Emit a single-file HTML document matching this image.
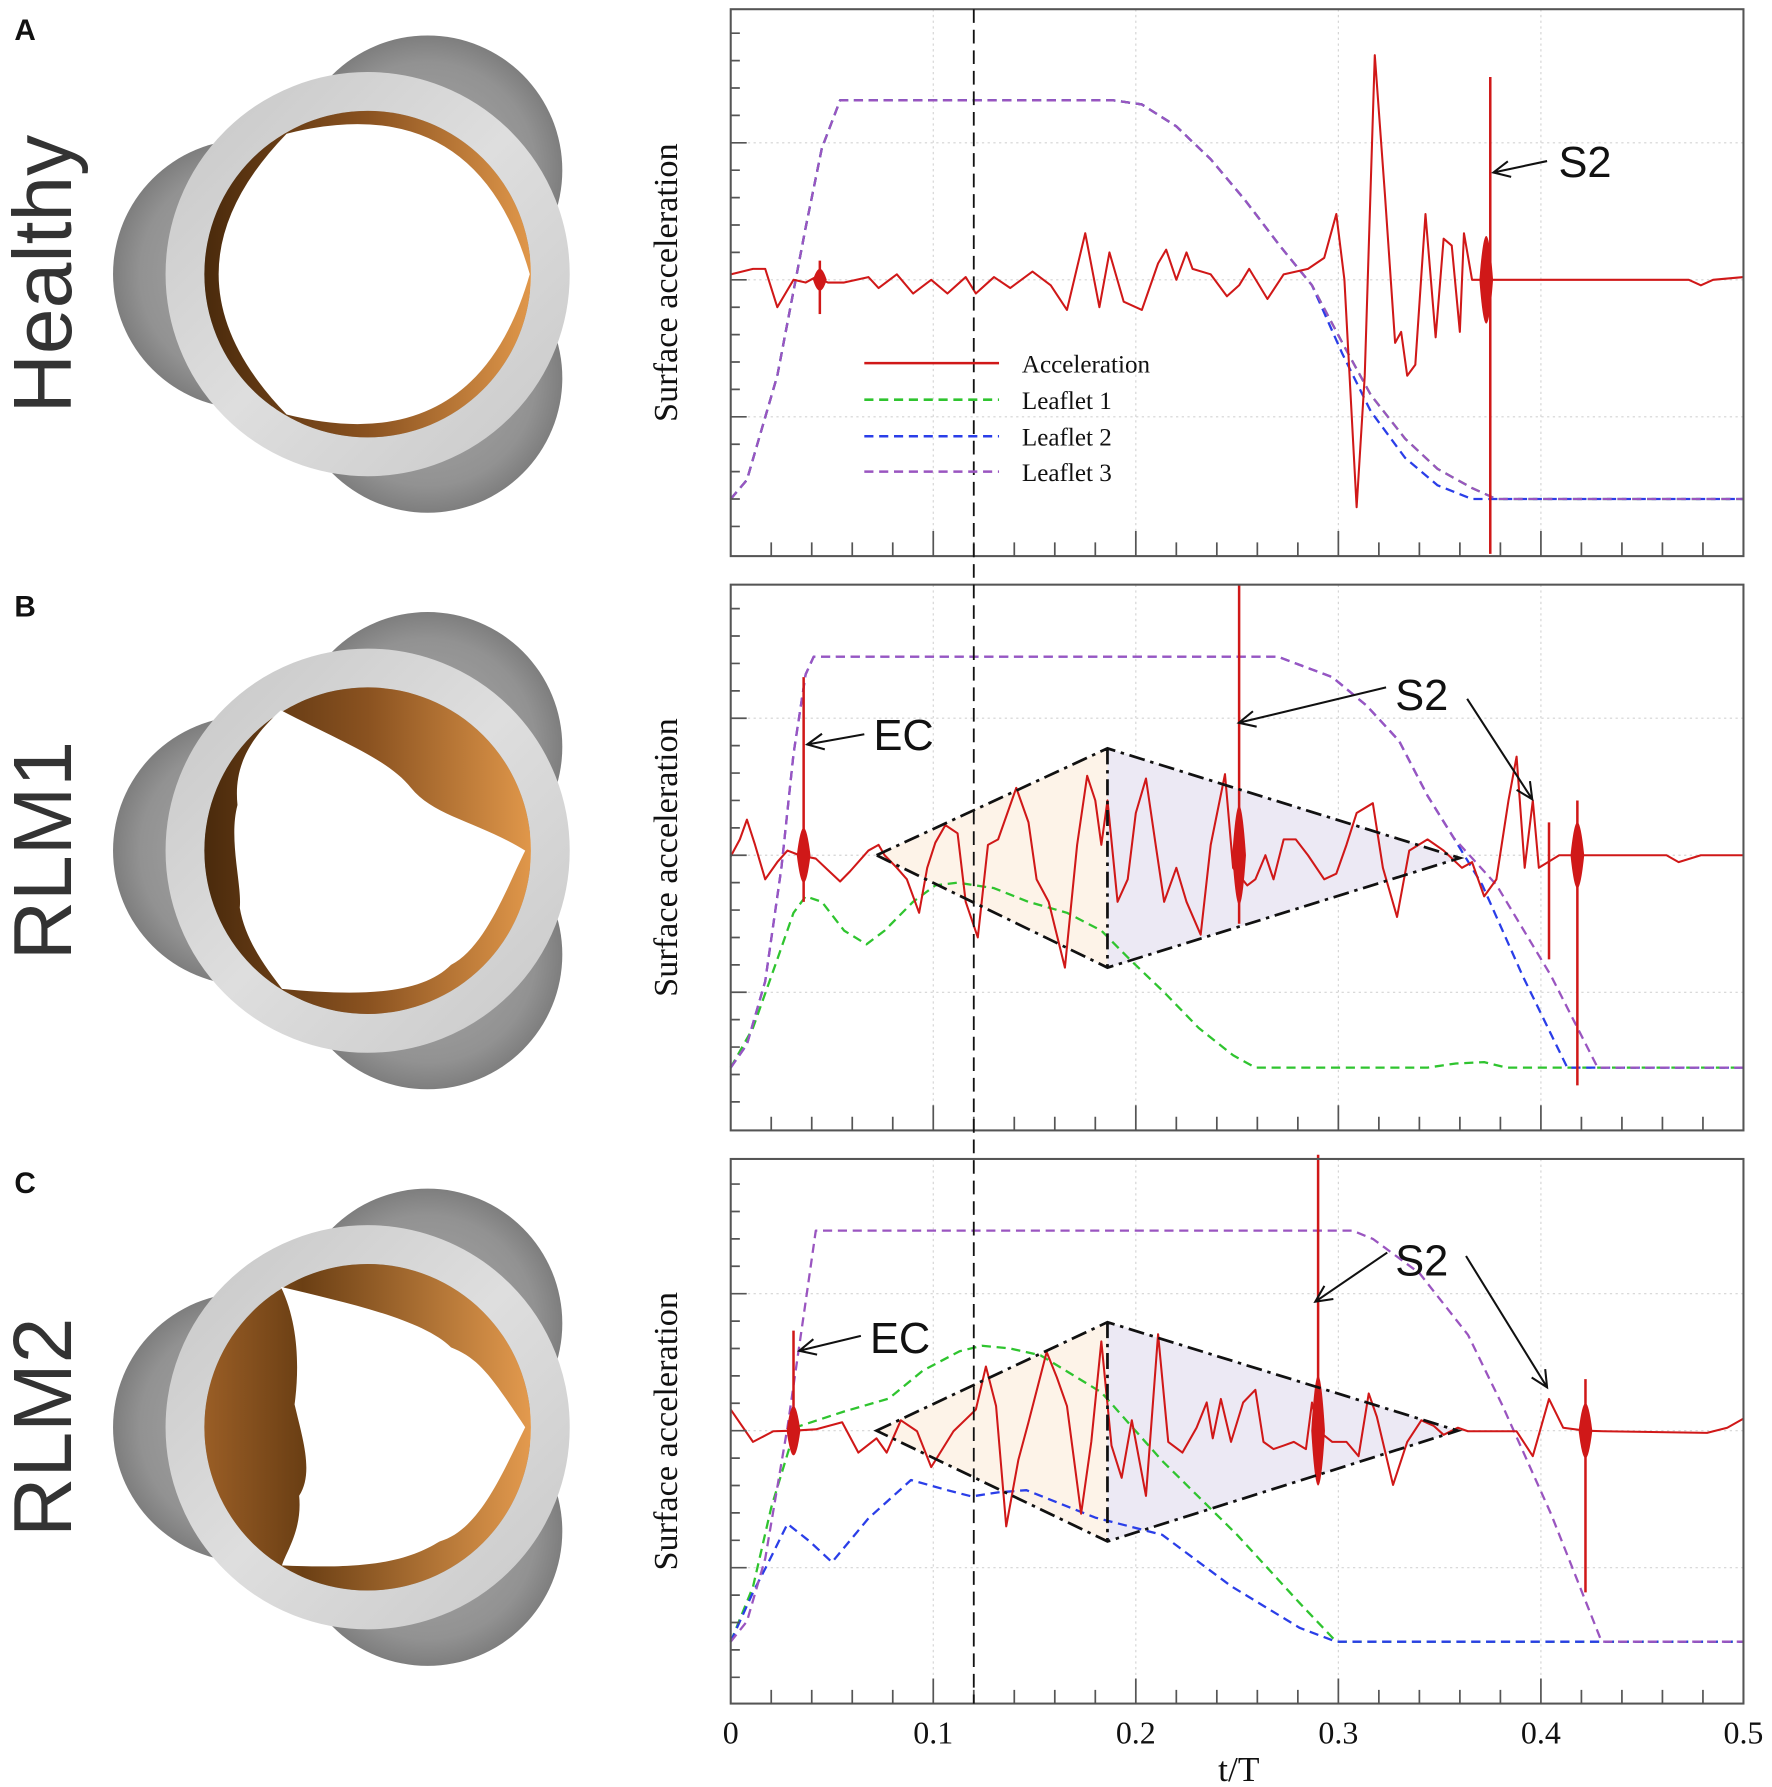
<!DOCTYPE html>
<html><head><meta charset="utf-8">
<style>
html,body{margin:0;padding:0;background:#fff;}
svg{display:block;}
text{font-family:"Liberation Serif",serif;}
.sans{font-family:"Liberation Sans",sans-serif;}
</style></head>
<body>
<svg id="fig" width="1772" height="1787" viewBox="0 0 1552 1565" xmlns="http://www.w3.org/2000/svg">
<defs>
  <radialGradient id="sinusG" cx="0.5" cy="0.5" r="0.5">
    <stop offset="0" stop-color="#a8a8a8"/><stop offset="0.8" stop-color="#929292"/><stop offset="1" stop-color="#7e7e7e"/>
  </radialGradient>
  <linearGradient id="ringG" x1="0" y1="0" x2="1" y2="1">
    <stop offset="0" stop-color="#c8c8c8"/><stop offset="0.5" stop-color="#dedede"/><stop offset="1" stop-color="#cacaca"/>
  </linearGradient>
  <linearGradient id="leafG" x1="0" y1="0.5" x2="1" y2="0.5">
    <stop offset="0" stop-color="#4a2a0c"/><stop offset="0.5" stop-color="#8a5220"/><stop offset="1" stop-color="#e0974a"/>
  </linearGradient>
  <linearGradient id="leafC" x1="0" y1="0.5" x2="1" y2="0.5">
    <stop offset="0" stop-color="#9a5e26"/><stop offset="0.3" stop-color="#6b3f14"/><stop offset="1" stop-color="#e39a4e"/>
  </linearGradient>
</defs>
<g id="valves"></g>
<g id="charts"></g>
</svg>
<script>
// ---------- DATA ----------
// Panel A (Healthy)
const accA_t = [0,.011,.017,.023,.027,.031,.037,.042,.048,.056,.068,.073,.082,.090,.099,.107,.116,.121,.130,.138,.149,.158,.166,.175,.182,.187,.194,.203,.211,.215,.220,.225,.228,.237,.245,.251,.256,.265,.273,.285,.293,.299,.303,.309,.313,.318,.323,.328,.331,.334,.338,.343,.348,.352,.356,.360,.362,.366,.375,.384,.428,.473,.479,.485,.5];
const accA_v = [.2,.4,.4,-1.0,-.5,0,-.1,.1,-.1,-.1,.1,-.3,.2,-.5,0,-.5,.1,-.5,.1,-.3,.3,-.2,-1.1,1.7,-1.0,1.0,-.8,-1.1,.6,1.1,0,1.0,.4,.2,-.6,-.2,.4,-.7,.2,.4,.8,2.4,0,-8.3,-3.5,8.2,3.1,-2.3,-1.9,-3.5,-3.1,2.4,-2.1,1.5,1.25,-1.9,1.7,0,0,0,0,0,-.2,0,.1];
const leafA_t = [0,.008,.023,.037,.045,.054,.189,.203,.220,.237,.254,.271,.287,.302,.316,.333,.349,.366,.378,.5];
const leaf1A_v = [-8,-7.3,-3.5,1.9,4.8,6.55,6.55,6.4,5.6,4.4,2.9,1.25,-.2,-2.3,-4.2,-5.8,-6.9,-7.6,-8,-8];
const leaf2A_v = [-8,-7.3,-3.5,1.9,4.8,6.55,6.55,6.4,5.6,4.4,2.9,1.25,-.2,-2.7,-4.8,-6.5,-7.5,-8,-8,-8];
const leaf3A_v = [-8,-7.3,-3.5,1.9,4.8,6.55,6.55,6.4,5.6,4.4,2.9,1.25,-.2,-2.3,-4.2,-5.8,-6.9,-7.6,-8,-8];
const spikeA_t = [.044,.375], spikeA_top = [.7,7.4], spikeA_bot = [-1.25,-10];
const burstA_t = [.044,.373], burstA_amp = [.4,1.6];

// Panel B (RLM1)
const accB_t = [0,.0045,.008,.012,.017,.023,.028,.034,.042,.048,.054,.059,.068,.073,.076,.082,.087,.093,.097,.101,.106,.112,.116,.122,.127,.132,.141,.147,.151,.157,.165,.171,.176,.180,.183,.186,.191,.196,.200,.205,.210,.214,.220,.225,.232,.237,.244,.248,.255,.259,.264,.268,.273,.279,.285,.293,.299,.304,.309,.317,.322,.329,.335,.344,.352,.361,.366,.372,.378,.384,.388,.392,.396,.399,.409,.428,.462,.468,.479,.5];
const accB_v = [-.04,.58,1.3,.38,-.88,-.25,.17,0,-.12,-.54,-.96,-.58,.17,.38,0,-.46,-.88,-2.1,-.46,.46,1.1,.8,-1.7,-3.0,.38,.58,2.46,1.2,-.88,-1.7,-4.1,.38,2.9,2.0,.38,2.0,-1.7,-.88,1.54,2.8,.29,-1.7,-.46,-1.7,-2.9,.38,2.96,-.46,-1.1,-.88,0,-.88,.58,.58,0,-.88,-.67,.38,1.54,1.9,-.46,-2.25,.17,.58,.17,-.46,-.25,-1.5,-.88,2.0,3.6,-.46,2.0,-.46,0,0,0,-.25,0,0];
const leaf1B_t = [0,.011,.023,.031,.037,.045,.056,.067,.076,.090,.101,.112,.130,.147,.166,.183,.197,.214,.231,.248,.259,.344,.358,.372,.383,.5];
const leaf1B_v = [-7.75,-6.3,-3.8,-2.1,-1.5,-1.7,-2.75,-3.25,-2.75,-1.7,-1.1,-1.0,-1.2,-1.7,-2.1,-2.75,-3.8,-5.0,-6.3,-7.3,-7.75,-7.75,-7.6,-7.55,-7.75,-7.75];
const leaf2B_t = [0,.008,.017,.025,.031,.037,.041,.270,.297,.314,.330,.344,.357,.371,.391,.413,.5];
const leaf2B_v = [-7.75,-6.9,-4.6,-.46,3.7,6.6,7.25,7.25,6.5,5.46,4.17,2.17,.63,-1.08,-4.4,-7.75,-7.75];
const leaf3B_t = [0,.008,.017,.025,.031,.037,.041,.270,.297,.314,.330,.344,.357,.378,.405,.428,.5];
const leaf3B_v = [-7.75,-6.9,-4.6,-.46,3.7,6.6,7.25,7.25,6.5,5.46,4.17,2.17,.63,-1.08,-4.4,-7.75,-7.75];
const spikeB_t = [.036,.251,.404,.418], spikeB_top = [6.5,9.9,1.2,2.0], spikeB_bot = [-1.7,-2.5,-3.8,-8.4];
const burstB_t = [.036,.251,.418], burstB_amp = [1.0,1.8,1.2];
const diamondB_t = [.072,.186,.36,.186], diamondB_v = [0,3.9,-.1,-4.1];

// Panel C (RLM2)
const accC_t = [0,.011,.021,.031,.042,.055,.063,.072,.077,.084,.092,.099,.110,.121,.126,.131,.136,.142,.147,.156,.161,.166,.173,.178,.183,.188,.193,.198,.205,.211,.216,.223,.230,.235,.238,.242,.247,.253,.259,.263,.268,.273,.278,.284,.287,.290,.297,.304,.310,.315,.319,.327,.334,.341,.347,.352,.359,.364,.374,.381,.388,.396,.404,.411,.422,.431,.482,.492,.5];
const accC_v = [.77,-.41,-.02,0,.05,.31,-.8,-.28,-.8,.38,-.02,-1.33,-.02,.77,2.34,.9,-3.49,-1.07,.31,2.87,1.95,.9,-3.03,-.41,3.26,-.54,-1.72,.38,-2.38,3.52,-.41,-.8,.11,1.03,-.28,1.16,-.41,1.03,1.49,-.41,-.67,-.54,-.41,-.67,1.03,0,-.41,-.41,-.93,1.36,.51,-1.98,-.41,.38,.18,-.15,.11,-.02,-.02,-.02,-.02,-.93,1.16,.11,0,-.02,-.08,.11,.44];
const leaf1C_t = [0,.011,.020,.032,.056,.078,.095,.113,.124,.138,.153,.183,.213,.250,.281,.299,.5];
const leaf1C_v = [-7.7,-5.7,-2.8,.12,.7,1.17,2.2,2.9,3.1,3.0,2.75,1.4,-1.1,-3.8,-6.3,-7.7,-7.7];
const leaf2C_t = [0,.011,.018,.028,.039,.050,.068,.089,.107,.119,.132,.146,.180,.213,.247,.281,.299,.5];
const leaf2C_v = [-7.7,-5.9,-4.9,-3.4,-4.04,-4.8,-3.2,-1.8,-2.17,-2.4,-2.25,-2.17,-3.17,-3.8,-5.67,-7.2,-7.7,-7.7];
const leaf3C_t = [0,.008,.017,.028,.037,.042,.307,.317,.340,.364,.381,.405,.430,.5];
const leaf3C_v = [-7.7,-6.96,-4.67,.12,4.7,7.3,7.3,7.0,5.75,3.5,.92,-3.04,-7.7,-7.7];
const spikeC_t = [.031,.290,.422], spikeC_top = [3.65,10.07,1.88], spikeC_bot = [-.8,-1.46,-5.9];
const burstC_t = [.031,.290,.422], burstC_amp = [.9,2.0,1.0];
const diamondC_t = [.072,.186,.359,.186], diamondC_v = [0,3.96,0,-4.04];

const xTicks = [0,0.1,0.2,0.3,0.4,0.5];
const xTickLabels = ["0","0.1","0.2","0.3","0.4","0.5"];
const panelNames = ["A","B","C"];
const valveNames = ["Healthy","RLM1","RLM2"];
const legendLabels = ["Acceleration","Leaflet 1","Leaflet 2","Leaflet 3"];

// ---------- LAYOUT ----------
const NS = "http://www.w3.org/2000/svg";
const X0 = 640, X1 = 1527;
const X = t => X0 + t * (X1 - X0) / 0.5;
const panels = [
  {top:8, bot:487, base:245},
  {top:512, bot:990, base:749},
  {top:1015, bot:1492, base:1253}
];
const UNIT = 24;
const charts = document.getElementById('charts');
const valves = document.getElementById('valves');

function mk(tag, attrs, parent){
  const e = document.createElementNS(NS, tag);
  for (const k in attrs) e.setAttribute(k, attrs[k]);
  (parent||charts).appendChild(e);
  return e;
}
function linePath(ts, vs, Y){
  return ts.map((t,i)=>(i?'L':'M')+X(t).toFixed(1)+','+Y(vs[i]).toFixed(1)).join(' ');
}

const series = [
  {acc:[accA_t,accA_v], leaves:[[leafA_t,leaf1A_v],[leafA_t,leaf2A_v],[leafA_t,leaf3A_v]], spikes:[spikeA_t,spikeA_top,spikeA_bot], bursts:[burstA_t,burstA_amp], diamond:null},
  {acc:[accB_t,accB_v], leaves:[[leaf1B_t,leaf1B_v],[leaf2B_t,leaf2B_v],[leaf3B_t,leaf3B_v]], spikes:[spikeB_t,spikeB_top,spikeB_bot], bursts:[burstB_t,burstB_amp], diamond:[diamondB_t,diamondB_v]},
  {acc:[accC_t,accC_v], leaves:[[leaf1C_t,leaf1C_v],[leaf2C_t,leaf2C_v],[leaf3C_t,leaf3C_v]], spikes:[spikeC_t,spikeC_top,spikeC_bot], bursts:[burstC_t,burstC_amp], diamond:[diamondC_t,diamondC_v]}
];
const leafColors = ["#2fc42f","#2a3ee8","#9a55c0"];
const leafNames = ["leaflet-1-line","leaflet-2-line","leaflet-3-line"];

series.forEach((s, p) => {
  const P = panels[p];
  const Y = v => P.base - v * UNIT;
  const g = mk('g', {});
  
  

  [0.1,0.2,0.3,0.4].forEach(t => {
    const l = mk('line', {x1:X(t), x2:X(t), y1:P.top, y2:P.bot, stroke:'#d4d4d4', 'stroke-width':1, 'stroke-dasharray':'2 3'}, g);
    
    
  });
  [-5,0,5].forEach(v => {
    const l = mk('line', {x1:X0, x2:X1, y1:Y(v), y2:Y(v), stroke:'#d4d4d4', 'stroke-width':1, 'stroke-dasharray':'2 3'}, g);
    
    
  });

  if (s.diamond) {
    const [dt, dv] = s.diamond;
    const lf = mk('path', {d:`M${X(dt[0])},${Y(dv[0])} L${X(dt[1])},${Y(dv[1])} L${X(dt[3])},${Y(dv[3])} Z`, fill:'#fdf3e8'}, g);
    
    
    const rf = mk('path', {d:`M${X(dt[1])},${Y(dv[1])} L${X(dt[2])},${Y(dv[2])} L${X(dt[3])},${Y(dv[3])} Z`, fill:'#ece9f4'}, g);
    
    
  }

  s.leaves.forEach((L, i) => {
    const pth = mk('path', {d:linePath(L[0], L[1], Y), fill:'none', stroke:leafColors[i], 'stroke-width':2, 'stroke-dasharray':'8 5', 'stroke-linejoin':'round'}, g);
    
    
  });

  const acc = mk('path', {d:linePath(s.acc[0], s.acc[1], Y), fill:'none', stroke:'#d01818', 'stroke-width':1.8, 'stroke-linejoin':'round'}, g);
  
  
  const [bt, ba] = s.bursts;
  bt.forEach((t, i) => {
    const w = 6, x = X(t), y0 = Y(0), a = ba[i] * UNIT;
    const b = mk('path', {d:`M${x-w},${y0} Q${x},${y0-2*a} ${x+w},${y0} Q${x},${y0+2*a} ${x-w},${y0} Z`, fill:'#d01818'}, g);
    
    
  });
  const [st, stop, sbot] = s.spikes;
  st.forEach((t, i) => {
    const l = mk('line', {x1:X(t), x2:X(t), y1:Y(stop[i]), y2:Y(sbot[i]), stroke:'#d01818', 'stroke-width':2.2}, g);
    
    
  });

  if (s.diamond) {
    const [dt, dv] = s.diamond;
    const d = mk('path', {d:`M${X(dt[0])},${Y(dv[0])} L${X(dt[1])},${Y(dv[1])} L${X(dt[2])},${Y(dv[2])} L${X(dt[3])},${Y(dv[3])} Z M${X(dt[1])},${Y(dv[1])} L${X(dt[3])},${Y(dv[3])}`, fill:'none', stroke:'#111', 'stroke-width':2.4, 'stroke-dasharray':'14 5 3 5'}, g);
    
    
  }

  const box = mk('rect', {x:X0, y:P.top, width:X1-X0, height:P.bot-P.top, fill:'none', stroke:'#555', 'stroke-width':1.8}, g);
  
  
  let td = '';
  for (let k = 1; k < 25; k++) {
    const t = k * 0.02; const major = (k % 5 === 0);
    td += `M${X(t)},${P.bot} V${P.bot - (major ? 22 : 12)} `;
  }
  for (let v = -10; v <= 10; v++) {
    const y = Y(v); if (y <= P.top + 2 || y >= P.bot - 2) continue;
    const major = (v % 5 === 0);
    td += `M${X0},${y} H${X0 + (major ? 14 : 8)} `;
  }
  const ticks = mk('path', {d:td, stroke:'#555', 'stroke-width':1.5, fill:'none'}, g);
  
  

  const cy = (P.top + P.bot) / 2;
  const yt = mk('text', {x:0, y:0, transform:`translate(593,${cy}) rotate(-90)`, 'text-anchor':'middle', 'font-size':30, fill:'#111'}, g);
  yt.textContent = 'Surface acceleration';
  
  
});

xTicks.forEach((t, i) => {
  const tx = mk('text', {x:X(t), y:1527, 'text-anchor':'middle', 'font-size':28, fill:'#111'});
  tx.textContent = xTickLabels[i];
  
  
});
const xt = mk('text', {x:1085, y:1560, 'text-anchor':'middle', 'font-size':31, fill:'#111'});
xt.textContent = 't/T';



const ref = mk('line', {x1:X(0.12), x2:X(0.12), y1:8, y2:1492, stroke:'#111', 'stroke-width':1.6, 'stroke-dasharray':'12 6'});



const legY = [318, 350, 382, 413];
const legCol = ['#d01818', '#2fc42f', '#2a3ee8', '#9a55c0'];
legendLabels.forEach((lab, i) => {
  const g = mk('g', {});
  
  
  const a = {x1:757, x2:875, y1:legY[i], y2:legY[i], stroke:legCol[i], 'stroke-width':2.2};
  if (i > 0) a['stroke-dasharray'] = '8 5';
  mk('line', a, g);
  const t = mk('text', {x:895, y:legY[i] + 8, 'font-size':22, fill:'#111'}, g);
  t.textContent = lab;
});

function arrow(x1, y1, x2, y2){
  const ang = Math.atan2(y2 - y1, x2 - x1), L = 16, sp = 0.45;
  const ax = x2 - L * Math.cos(ang - sp), ay = y2 - L * Math.sin(ang - sp);
  const bx = x2 - L * Math.cos(ang + sp), by = y2 - L * Math.sin(ang + sp);
  const a = mk('path', {d:`M${x1},${y1} L${x2},${y2} M${ax},${ay} L${x2},${y2} L${bx},${by}`, fill:'none', stroke:'#111', 'stroke-width':1.8});
  
  
}
function label(txt, x, y){
  const t = mk('text', {x:x, y:y, 'font-size':38, class:'sans', fill:'#111'});
  t.textContent = txt;
  
  
}
label('S2', 1365, 155); arrow(1355, 141, 1308, 151);
label('EC', 765, 657); arrow(757, 643, 707, 652);
label('S2', 1222, 622); arrow(1214, 602, 1085, 633); arrow(1285, 612, 1342, 700);
label('EC', 762, 1185); arrow(754, 1170, 700, 1183);
label('S2', 1222, 1117); arrow(1215, 1097, 1152, 1140); arrow(1284, 1100, 1355, 1215);

// ---------- VALVES ----------
const valveCY = [240, 745, 1250];
function healthyOpening(cx, c){
  const r = 142, rc = 190;
  const P = a => [cx + r*Math.cos(a), c - r*Math.sin(a)];
  const C = a => [cx + rc*Math.cos(a), c - rc*Math.sin(a)];
  const d2r = Math.PI/180;
  const v0 = P(0), v1 = P(120*d2r), v2 = P(240*d2r);
  const c0 = C(60*d2r), c1 = C(180*d2r), c2 = C(300*d2r);
  return `M${v0} Q${c0} ${v1} Q${c1} ${v2} Q${c2} ${v0} Z`;
}
const openings = [
  c => healthyOpening(322, c),
  c => `M${460},${c} C${420},${c-25} ${380},${c-30} ${360},${c-55} C${340},${c-80} ${300},${c-95} ${246},${c-123} C${215},${c-95} ${205},${c-70} ${208},${c-40} C${200},${c-10} ${212},${c+30} ${210},${c+50} C${215},${c+80} ${235},${c+105} ${247},${c+121} C${320},${c+128} ${370},${c+125} ${395},${c+100} C${425},${c+85} ${445},${c+30} ${460},${c} Z`,
  c => `M${460},${c} C${430},${c-45} ${420},${c-60} ${395},${c-70} C${370},${c-95} ${300},${c-110} ${246},${c-123} C${262},${c-90} ${262},${c-50} ${258},${c-20} C${265},${c+10} ${275},${c+40} ${262},${c+60} C${265},${c+90} ${250},${c+110} ${247},${c+121} C${330},${c+125} ${360},${c+115} ${385},${c+100} C${420},${c+90} ${440},${c+40} ${460},${c} Z`
];
valveCY.forEach((cy, p) => {
  const cx = 322;
  const g = mk('g', {}, valves);
  
  
  [[cx - 105, cy], [cx + 52.5, cy - 91], [cx + 52.5, cy + 91]].forEach(([sx, sy]) => {
    mk('circle', {cx:sx, cy:sy, r:118, fill:'url(#sinusG)'}, g);
  });
  mk('circle', {cx:cx, cy:cy, r:160, fill:'none', stroke:'url(#ringG)', 'stroke-width':34}, g);
  mk('circle', {cx:cx, cy:cy, r:143, fill: p === 2 ? 'url(#leafC)' : 'url(#leafG)'}, g);
  mk('path', {d:openings[p](cy), fill:'#fff'}, g);
  const lt = mk('text', {x:22, y:valveCY[p] - 205, 'font-size':26, 'font-weight':'bold', class:'sans', 'text-anchor':'middle', fill:'#111'}, g);
  lt.textContent = panelNames[p];
  
  
  const vt = mk('text', {x:0, y:0, transform:`translate(62,${cy}) rotate(-90)`, 'text-anchor':'middle', 'font-size':72, class:'sans', fill:'#333'}, g);
  vt.textContent = valveNames[p];
  
  
});
</script>
</body></html>
